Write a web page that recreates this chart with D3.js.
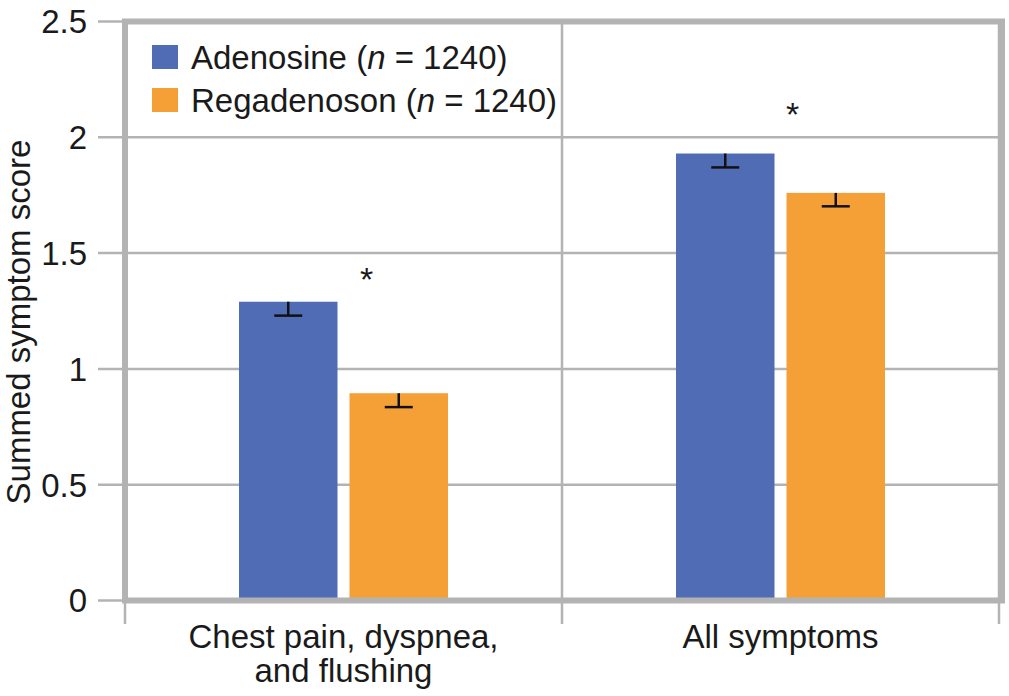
<!DOCTYPE html>
<html>
<head>
<meta charset="utf-8">
<script src="https://cdn.jsdelivr.net/npm/d3@7"></script>
<style>
  body { margin: 0; background: #fff; }
  text { font-family: "Liberation Sans", Arial, Helvetica, sans-serif; fill: #1a1a1a; }
</style>
</head>
<body>
<div id="chart"></div>
<script>
// data
let categories = ["Chest pain, dyspnea, and flushing", "All symptoms"];
let catLines = [["Chest pain, dyspnea,", "and flushing"], ["All symptoms"]];
let seriesNames = ["Adenosine", "Regadenoson"];
let seriesN = [1240, 1240];
let adenosine = [1.29, 1.93];
let regadenoson = [0.895, 1.76];
let adenosineErr = [0.06, 0.06];
let regadenosonErr = [0.06, 0.058];
let starValues = [1.42, 2.13];
let yTicks = [0, 0.5, 1, 1.5, 2, 2.5];

let colors = ["#4f6cb5", "#f5a037"];
let gridColor = "#b3b3b3";
let fontSize = '33px';

let width = 1009, height = 696;

let svg = d3.select('#chart')
    .append('svg')
    .attr('width', width)
    .attr('height', height);

let x = d3.scaleBand()
    .domain(categories)
    .range([125, 999]);

let y = d3.scaleLinear()
    .domain([0, 2.5])
    .range([600.5, 21.5]);

let barW = 98.5, gap = 12;
let values = [adenosine, regadenoson];
let errs = [adenosineErr, regadenosonErr];

// gridlines + left ticks
svg.append('g')
    .selectAll('line')
    .data(yTicks)
    .enter().append('line')
    .attr('x1', 98)
    .attr('x2', 1002)
    .attr('y1', d => y(d))
    .attr('y2', d => y(d))
    .attr('stroke', gridColor)
    .attr('stroke-width', 2.5);

// y tick labels
svg.append('g')
    .selectAll('text')
    .data(yTicks)
    .enter().append('text')
    .attr('x', 87)
    .attr('y', d => y(d))
    .attr('dy', '0.36em')
    .attr('text-anchor', 'end')
    .style('font-size', fontSize)
    .text(d => d3.format('')(d));

// vertical separators and bottom ticks
let seps = [125, x(categories[1]), 999];
svg.append('g')
    .selectAll('line')
    .data(seps)
    .enter().append('line')
    .attr('x1', d => d)
    .attr('x2', d => d)
    .attr('y1', y(2.5))
    .attr('y2', 624)
    .attr('stroke', gridColor)
    .attr('stroke-width', 2.5);

// bars
seriesNames.forEach(function (s, si) {
    svg.append('g')
        .selectAll('rect')
        .data(categories)
        .enter().append('rect')
        .attr('x', c => x(c) + x.bandwidth() / 2 + (si === 0 ? -(barW + gap / 2) : gap / 2))
        .attr('y', (c, i) => y(values[si][i]))
        .attr('width', barW)
        .attr('height', (c, i) => y(0) - y(values[si][i]))
        .attr('fill', colors[si]);

    // error bars (downward only)
    categories.forEach(function (c, i) {
        let cx = x(c) + x.bandwidth() / 2 + (si === 0 ? -(barW / 2 + gap / 2) : barW / 2 + gap / 2);
        let v = values[si][i], lo = v - errs[si][i];
        svg.append('line')
            .attr('x1', cx).attr('x2', cx)
            .attr('y1', y(v)).attr('y2', y(lo))
            .attr('stroke', '#111')
            .attr('stroke-width', 2.5);
        svg.append('line')
            .attr('x1', cx - 14).attr('x2', cx + 14)
            .attr('y1', y(lo)).attr('y2', y(lo))
            .attr('stroke', '#111')
            .attr('stroke-width', 2.5);
    });
});

// significance asterisks
let starOffsets = [23, 12];
svg.append('g')
    .selectAll('text')
    .data(categories)
    .enter().append('text')
    .attr('x', (c, i) => x(c) + x.bandwidth() / 2 + starOffsets[i])
    .attr('y', (c, i) => y(starValues[i]) + 19)
    .attr('text-anchor', 'middle')
    .style('font-size', '34px')
    .text('*');

// frame
svg.append('rect')
    .attr('x', 125)
    .attr('y', y(2.5))
    .attr('width', 1002 - 125)
    .attr('height', y(0) - y(2.5))
    .attr('fill', 'none')
    .attr('stroke', gridColor)
    .attr('stroke-width', 6);

// x labels
catLines.forEach(function (lines, i) {
    let t = svg.append('text')
        .attr('x', x(categories[i]) + x.bandwidth() / 2)
        .attr('y', 648)
        .attr('text-anchor', 'middle')
        .style('font-size', fontSize);
    lines.forEach(function (l, j) {
        t.append('tspan')
            .attr('x', x(categories[i]) + x.bandwidth() / 2)
            .attr('dy', j === 0 ? 0 : 34)
            .text(l);
    });
});

// y title
svg.append('text')
    .attr('transform', 'translate(30,322) rotate(-90)')
    .attr('text-anchor', 'middle')
    .style('font-size', fontSize)
    .text('Summed symptom score');

// legend
let legend = svg.append('g');
seriesNames.forEach(function (s, i) {
    let yy = 69 + i * 43;
    legend.append('rect')
        .attr('x', 152)
        .attr('y', yy - 24)
        .attr('width', 26)
        .attr('height', 24)
        .attr('fill', colors[i]);
    let t = legend.append('text')
        .attr('x', 191)
        .attr('y', yy)
        .style('font-size', fontSize);
    t.append('tspan').text(s + ' (');
    t.append('tspan').style('font-style', 'italic').text('n');
    t.append('tspan').text(' = ' + seriesN[i] + ')');
});
</script>
</body>
</html>
